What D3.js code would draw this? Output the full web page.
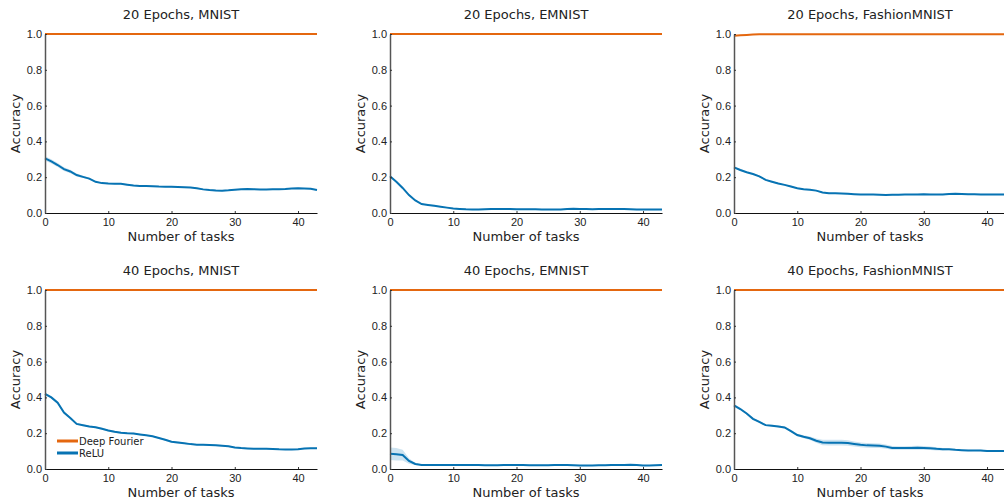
<!DOCTYPE html>
<html>
<head>
<meta charset="utf-8">
<script src="https://cdn.jsdelivr.net/npm/d3@7"></script>
<style>
  body { margin: 0; background: #fff; }
  svg { font-family: "DejaVu Sans", sans-serif; }
  .tick text { fill: #222; }
</style>
</head>
<body>
<script>
var width = 1004,
    height = 498;

// task index 0..43
var tasks = d3.range(0, 44);

var titles = ["20 Epochs, MNIST", "20 Epochs, EMNIST", "20 Epochs, FashionMNIST",
              "40 Epochs, MNIST", "40 Epochs, EMNIST", "40 Epochs, FashionMNIST"];

// ReLU mean accuracy per panel
var relu20Mnist = [0.305,0.288,0.268,0.245,0.232,0.212,0.202,0.192,0.174,0.167,0.165,0.164,0.163,0.158,0.153,0.151,0.151,0.150,0.148,0.147,0.146,0.145,0.144,0.142,0.138,0.132,0.128,0.126,0.125,0.127,0.130,0.132,0.134,0.133,0.131,0.131,0.132,0.132,0.134,0.137,0.138,0.137,0.135,0.129];
var relu20Emnist = [0.205,0.175,0.140,0.100,0.070,0.050,0.045,0.040,0.035,0.030,0.025,0.023,0.021,0.020,0.020,0.021,0.022,0.023,0.023,0.022,0.021,0.021,0.021,0.021,0.020,0.020,0.020,0.020,0.022,0.024,0.023,0.022,0.021,0.022,0.023,0.023,0.023,0.023,0.021,0.019,0.019,0.019,0.019,0.020];
var relu20Fashion = [0.255,0.240,0.228,0.218,0.205,0.185,0.175,0.165,0.157,0.148,0.138,0.133,0.130,0.125,0.115,0.110,0.110,0.109,0.107,0.105,0.103,0.103,0.103,0.102,0.101,0.102,0.102,0.103,0.103,0.104,0.105,0.104,0.103,0.104,0.106,0.107,0.106,0.105,0.105,0.104,0.104,0.104,0.104,0.104];
var relu40Mnist = [0.420,0.400,0.370,0.315,0.285,0.252,0.245,0.238,0.233,0.225,0.215,0.208,0.203,0.200,0.198,0.193,0.188,0.183,0.173,0.163,0.152,0.148,0.144,0.139,0.136,0.135,0.134,0.133,0.130,0.127,0.120,0.117,0.115,0.113,0.113,0.113,0.112,0.110,0.109,0.109,0.111,0.114,0.116,0.116];
var relu40Emnist = [0.085,0.083,0.078,0.045,0.028,0.023,0.022,0.022,0.022,0.022,0.022,0.022,0.022,0.022,0.022,0.021,0.021,0.021,0.022,0.022,0.022,0.022,0.021,0.021,0.021,0.021,0.022,0.022,0.022,0.021,0.019,0.019,0.020,0.021,0.021,0.022,0.022,0.023,0.024,0.022,0.019,0.020,0.021,0.022];
var relu40Fashion = [0.355,0.335,0.310,0.280,0.263,0.245,0.242,0.238,0.232,0.212,0.190,0.180,0.172,0.158,0.148,0.147,0.147,0.147,0.145,0.140,0.135,0.132,0.131,0.130,0.125,0.118,0.117,0.117,0.118,0.119,0.118,0.116,0.113,0.111,0.110,0.107,0.105,0.103,0.104,0.103,0.101,0.100,0.100,0.100];

// ReLU spread (half width of shaded band)
var spread20Mnist = [0.012,0.012,0.011,0.010,0.010,0.008,0.006,0.005,0.004,0.004,0.004,0.004,0.004,0.004,0.004,0.004,0.003,0.003,0.003,0.003,0.003,0.003,0.003,0.003,0.003,0.003,0.004,0.004,0.004,0.003,0.003,0.003,0.003,0.003,0.003,0.003,0.003,0.003,0.003,0.003,0.003,0.003,0.003,0.003];
var spread20Emnist = [0.006,0.005,0.004,0.004,0.003,0.003,0.003,0.003,0.003,0.003,0.003,0.003,0.003,0.003,0.003,0.003,0.003,0.003,0.003,0.003,0.003,0.003,0.003,0.003,0.003,0.003,0.003,0.003,0.003,0.003,0.003,0.003,0.003,0.003,0.003,0.003,0.003,0.003,0.003,0.003,0.003,0.003,0.003,0.003];
var spread20Fashion = [0.005,0.005,0.004,0.004,0.004,0.004,0.004,0.004,0.004,0.004,0.004,0.004,0.003,0.003,0.003,0.003,0.003,0.003,0.003,0.003,0.003,0.003,0.003,0.003,0.003,0.003,0.003,0.003,0.003,0.003,0.003,0.003,0.003,0.003,0.003,0.003,0.003,0.003,0.003,0.003,0.003,0.003,0.003,0.003];
var spread40Mnist = [0.006,0.006,0.007,0.006,0.005,0.005,0.005,0.005,0.005,0.005,0.005,0.005,0.005,0.005,0.004,0.004,0.004,0.004,0.004,0.005,0.005,0.005,0.004,0.004,0.004,0.004,0.004,0.004,0.004,0.004,0.004,0.004,0.003,0.003,0.003,0.003,0.003,0.003,0.003,0.003,0.003,0.003,0.003,0.003];
var spread40Emnist = [0.035,0.035,0.030,0.015,0.006,0.004,0.003,0.003,0.003,0.003,0.003,0.003,0.003,0.003,0.003,0.003,0.003,0.003,0.003,0.003,0.003,0.003,0.003,0.003,0.003,0.003,0.003,0.003,0.003,0.003,0.003,0.003,0.003,0.003,0.003,0.003,0.003,0.003,0.003,0.003,0.003,0.003,0.003,0.003];
var spread40Fashion = [0.008,0.007,0.006,0.006,0.006,0.005,0.005,0.005,0.006,0.007,0.007,0.008,0.010,0.012,0.015,0.016,0.016,0.016,0.015,0.014,0.013,0.013,0.013,0.013,0.012,0.010,0.010,0.010,0.011,0.011,0.011,0.010,0.009,0.007,0.005,0.004,0.004,0.004,0.004,0.004,0.004,0.004,0.004,0.004];

// Deep Fourier accuracy
var fourierFlat = [1,1,1,1,1,1,1,1,1,1,1,1,1,1,1,1,1,1,1,1,1,1,1,1,1,1,1,1,1,1,1,1,1,1,1,1,1,1,1,1,1,1,1,1];
var fourier20Fashion = [0.990,0.993,0.995,0.997,0.998,0.998,0.998,0.998,0.998,0.998,0.998,0.999,0.999,0.999,0.999,0.999,0.999,0.999,0.999,0.999,0.999,0.999,0.999,0.999,0.999,0.999,0.999,0.999,0.999,0.999,0.999,0.999,0.998,0.998,0.998,0.998,0.998,0.998,0.998,0.998,0.998,0.998,0.998,0.998];

var yTicks = [0, 0.2, 0.4, 0.6, 0.8, 1.0];
var xTicks = [0, 10, 20, 30, 40];

var reluList = [relu20Mnist, relu20Emnist, relu20Fashion, relu40Mnist, relu40Emnist, relu40Fashion];
var spreadList = [spread20Mnist, spread20Emnist, spread20Fashion, spread40Mnist, spread40Emnist, spread40Fashion];
var fourierList = [fourierFlat, fourierFlat, fourier20Fashion, fourierFlat, fourierFlat, fourierFlat];

var orange = "#e4670f",
    blue = "#0773b3";

var colX = [45, 390, 734],
    rowY = [34, 290],
    plotW = 272,
    plotH = 179;

var svg = d3.select("body").append("svg")
    .attr("width", width)
    .attr("height", height);

var x = d3.scaleLinear().domain([0, 43]).range([0, plotW]);
var y = d3.scaleLinear().domain([0, 1]).range([plotH, 0]);

titles.forEach(function (title, i) {
    var g = svg.append("g")
        .attr("transform", "translate(" + colX[i % 3] + "," + rowY[Math.floor(i / 3)] + ")");

    var relu = reluList[i], spread = spreadList[i], fourier = fourierList[i];

    var band = d3.area()
        .x(function (d) { return x(d); })
        .y0(function (d) { return y(relu[d] - spread[d]); })
        .y1(function (d) { return y(relu[d] + spread[d]); });

    g.append("path")
        .datum(tasks)
        .attr("d", band)
        .attr("fill", blue)
        .attr("fill-opacity", 0.2);

    var line = function (vals) {
        return d3.line()
            .x(function (d) { return x(d); })
            .y(function (d) { return y(vals[d]); });
    };

    g.append("path")
        .datum(tasks)
        .attr("d", line(relu))
        .attr("fill", "none")
        .attr("stroke", blue)
        .attr("stroke-width", 2);

    g.append("path")
        .datum(tasks)
        .attr("d", line(fourier))
        .attr("fill", "none")
        .attr("stroke", orange)
        .attr("stroke-width", 2);

    // axes: small inward ticks, no outer tick
    var xAxis = g.append("g")
        .attr("transform", "translate(0," + plotH + ")")
        .call(d3.axisBottom(x).tickValues(xTicks).tickSize(-2).tickSizeOuter(0).tickPadding(5).tickFormat(d3.format("d")));
    xAxis.selectAll("text").style("font-size", "11px");

    var yAxis = g.append("g")
        .call(d3.axisLeft(y).tickValues(yTicks).tickSize(-2).tickSizeOuter(0).tickPadding(3).tickFormat(d3.format(".1f")));
    yAxis.selectAll("text").style("font-size", "11px");

    xAxis.select(".domain").attr("stroke", "#111").attr("stroke-width", 1.2);
    yAxis.select(".domain").attr("stroke", "#555").attr("stroke-width", 1.5);
    xAxis.selectAll(".tick line").attr("stroke", "#333");
    yAxis.selectAll(".tick line").attr("stroke", "#333");

    g.append("text")
        .attr("x", plotW / 2)
        .attr("y", -15)
        .attr("text-anchor", "middle")
        .style("font-size", "13px")
        .style("fill", "#222")
        .text(title);

    g.append("text")
        .attr("x", plotW / 2)
        .attr("y", plotH + 28)
        .attr("text-anchor", "middle")
        .style("font-size", "13px")
        .style("fill", "#222")
        .text("Number of tasks");

    g.append("text")
        .attr("transform", "translate(-25," + (plotH / 2) + ") rotate(-90)")
        .attr("text-anchor", "middle")
        .style("font-size", "13px")
        .style("fill", "#222")
        .text("Accuracy");

    if (i === 3) {
        var legend = [["Deep Fourier", orange], ["ReLU", blue]];
        legend.forEach(function (d, k) {
            var ly = 151 + k * 12;
            g.append("line")
                .attr("x1", 12).attr("x2", 33)
                .attr("y1", ly).attr("y2", ly)
                .attr("stroke", d[1])
                .attr("stroke-width", 3);
            g.append("text")
                .attr("x", 34)
                .attr("y", ly + 3.5)
                .style("font-size", "10px")
                .style("fill", "#222")
                .text(d[0]);
        });
    }
});
</script>
</body>
</html>
